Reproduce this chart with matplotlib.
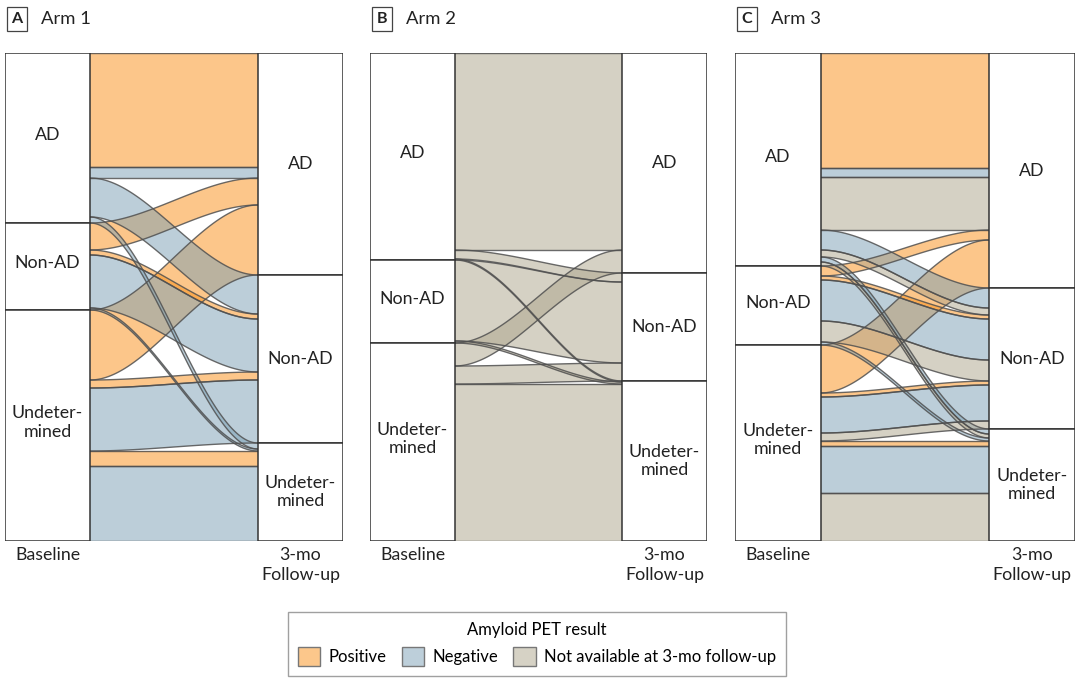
import numpy as np
import matplotlib.pyplot as plt
from matplotlib.patches import Rectangle, Patch

plt.rcParams['font.family'] = ['Lato', 'DejaVu Sans']

stage_labels = ['AD', 'Non-AD', 'Undeter-\nmined']
results = ['Positive', 'Negative', 'Not available at 3-mo follow-up']
arm_titles = ['Arm 1', 'Arm 2', 'Arm 3']
panel_letters = ['A', 'B', 'C']

# flows: baseline dx, 3-mo dx (0 AD, 1 Non-AD, 2 Undetermined), PET result (0 pos, 1 neg, 2 n/a), size
arm1_from = [0, 0, 0, 0, 1, 1, 1, 1, 2, 2, 2, 2, 2]
arm1_to = [0, 0, 1, 2, 0, 1, 1, 2, 0, 1, 1, 2, 2]
arm1_pet = [0, 1, 1, 1, 0, 0, 1, 1, 0, 0, 1, 0, 1]
arm1_n = [114, 11, 39, 6, 27, 5, 53, 2, 70, 8, 63, 15, 75]

arm2_from = [0, 0, 0, 1, 1, 2, 2, 2]
arm2_to = [0, 1, 2, 1, 2, 0, 1, 2]
arm2_pet = [2, 2, 2, 2, 2, 2, 2, 2]
arm2_n = [197, 9, 1, 81, 2, 23, 18, 157]

arm3_from = [0, 0, 0, 0, 0, 0, 0, 1, 1, 1, 1, 1, 2, 2, 2, 2, 2, 2, 2]
arm3_to = [0, 0, 0, 1, 1, 2, 2, 0, 1, 1, 1, 2, 0, 1, 1, 1, 2, 2, 2]
arm3_pet = [0, 1, 2, 1, 2, 1, 2, 0, 0, 1, 2, 1, 0, 0, 1, 2, 0, 1, 2]
arm3_n = [115, 9, 53, 20, 7, 5, 4, 10, 4, 41, 21, 3, 48, 4, 36, 8, 5, 47, 48]

arms = [(arm1_from, arm1_to, arm1_pet, arm1_n),
        (arm2_from, arm2_to, arm2_pet, arm2_n),
        (arm3_from, arm3_to, arm3_pet, arm3_n)]

# colours as seen on white, and the alpha used for the flows
shown = np.array([[0.99, 0.78, 0.545], [0.74, 0.812, 0.855], [0.84, 0.822, 0.772]])
alpha = 0.5
base = 1 - (1 - shown) / alpha
edge = '#505050'
fs = 12.8

fig = plt.figure(figsize=(10.8, 6.86), dpi=100)
W, H = 1080, 686
panel_x = [(5, 343), (370, 707), (735, 1075)]
top_px, bot_px = 53, 541
bw = 0.252

t = np.linspace(0, 1, 120)
s = 3 * t ** 2 - 2 * t ** 3
xs = bw + (1 - 2 * bw) * t

for k, (src, dst, pet, n) in enumerate(arms):
    x0, x1 = panel_x[k]
    ax = fig.add_axes([x0 / W, 1 - bot_px / H, (x1 - x0) / W, (bot_px - top_px) / H])
    total = sum(n)
    ax.set_xlim(0, 1)
    ax.set_ylim(total, 0)
    ax.axis('off')

    # node sizes
    left_tot = [sum(v for a, v in zip(src, n) if a == i) for i in range(3)]
    right_tot = [sum(v for b, v in zip(dst, n) if b == i) for i in range(3)]
    left_start = np.concatenate([[0], np.cumsum(left_tot)[:-1]])
    right_start = np.concatenate([[0], np.cumsum(right_tot)[:-1]])

    idx = range(len(n))
    left_order = sorted(idx, key=lambda i: (src[i], dst[i], pet[i]))
    right_order = sorted(idx, key=lambda i: (dst[i], src[i], pet[i]))
    ly = {}
    pos = list(left_start)
    for i in left_order:
        ly[i] = pos[src[i]]
        pos[src[i]] += n[i]
    ry = {}
    pos = list(right_start)
    for i in right_order:
        ry[i] = pos[dst[i]]
        pos[dst[i]] += n[i]

    # positives drawn first so the others sit on top
    for i in sorted(idx, key=lambda i: pet[i]):
        top = ly[i] + (ry[i] - ly[i]) * s
        bot = top + n[i]
        ax.fill_between(xs, top, bot, facecolor=base[pet[i]], alpha=alpha, lw=0)
        ax.plot(xs, top, color=edge, lw=1.0, alpha=0.85)
        ax.plot(xs, bot, color=edge, lw=1.0, alpha=0.85)

    for j in range(3):
        ax.add_patch(Rectangle((0, left_start[j]), bw, left_tot[j], facecolor='white',
                               edgecolor='#333333', lw=1.1, zorder=5))
        ax.add_patch(Rectangle((1 - bw, right_start[j]), bw, right_tot[j], facecolor='white',
                               edgecolor='#333333', lw=1.1, zorder=5))
        ax.text(bw / 2, left_start[j] + left_tot[j] / 2 - 3, stage_labels[j], ha='center', va='center',
                fontsize=fs, color='#222222', zorder=6, linespacing=1.2)
        ax.text(1 - bw / 2, right_start[j] + right_tot[j] / 2, stage_labels[j], ha='center', va='center',
                fontsize=fs, color='#222222', zorder=6, linespacing=1.2)

    ax.text(bw / 2, -0.012, 'Baseline', transform=ax.transAxes, ha='center', va='top',
            fontsize=fs, color='#222222')
    ax.text(1 - bw / 2, -0.012, '3-mo\nFollow-up', transform=ax.transAxes, ha='center', va='top',
            fontsize=fs, color='#222222', linespacing=1.3)

    fig.text((x0 + 12) / W, 1 - 19 / H, panel_letters[k], ha='center', va='center', fontsize=11.5,
             fontweight='bold', color='#222222',
             bbox=dict(boxstyle='square,pad=0.3', facecolor='white', edgecolor='#444444', lw=0.9))
    fig.text((x0 + 36) / W, 1 - 19 / H, arm_titles[k], ha='left', va='center', fontsize=13.3,
             color='#222222')

handles = [Patch(facecolor=shown[i], edgecolor='#777777', lw=1.0) for i in range(3)]
leg = fig.legend(handles, results, loc='center', bbox_to_anchor=(537 / W, 1 - 644 / H), ncol=3,
                 title='Amyloid PET result', fontsize=12, title_fontsize=12, frameon=True,
                 fancybox=False, edgecolor='#888888', handlelength=1.35, handleheight=1.35,
                 handletextpad=0.5, columnspacing=0.9, borderpad=0.6)
leg.get_frame().set_linewidth(1.0)

fig.savefig('out.png', dpi=100)
